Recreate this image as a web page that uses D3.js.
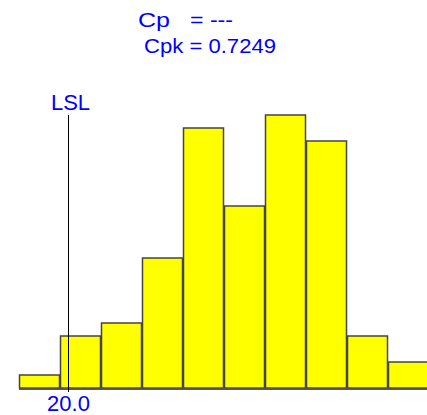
<!DOCTYPE html>
<html>
<head>
	<meta charset="UTF-8">
	<title>Histogram</title>
	<script src="https://cdn.jsdelivr.net/npm/d3@7"></script>
	<style>
		body { margin: 0; background: #fff; }
		svg { display: block; font-family: Arial, "Liberation Sans", sans-serif; }
		.bar { fill: #ffff00; stroke: #444; stroke-width: 1.5px; }
		.base { stroke: #555; stroke-width: 2px; }
		.lsl { stroke: #000; stroke-width: 1px; }
		.lbl { fill: #0000ff; font-size: 21px; }
	</style>
</head>
<body>
	<svg id="chart" width="427" height="415"></svg>
	<script>
		// bin edges and counts
		const binStart = 19.4;
		const binWidth = 0.5;
		const counts = [1, 4, 5, 10, 20, 14, 21, 19, 4, 2];
		const lsl = 20.0;
		const lslLabel = "20.0";
		const statNames = ["Cp", "Cpk"];
		const statValues = ["---", "0.7249"];

		const svg = d3.select('#chart');
		const baseY = 388;

		const x = d3.scaleLinear()
			.domain([binStart, binStart + binWidth * counts.length])
			.range([19, 429]);
		const y = d3.scaleLinear()
			.domain([0, 21])
			.range([baseY, 115]);

		svg.append('g').selectAll('rect')
			.data(counts)
			.enter().append('rect')
			.attr('class', 'bar')
			.attr('x', (d, i) => x(binStart + i * binWidth) + 0.5)
			.attr('width', x(binStart + binWidth) - x(binStart) - 1)
			.attr('y', d => y(d))
			.attr('height', d => y(0) - y(d));

		svg.append('line')
			.attr('class', 'base')
			.attr('x1', 19).attr('x2', 427)
			.attr('y1', baseY + 1).attr('y2', baseY + 1);

		const lx = Math.round(x(lsl)) + 0.5;
		svg.append('line')
			.attr('class', 'lsl')
			.attr('x1', lx).attr('x2', lx)
			.attr('y1', 115).attr('y2', baseY + 4);

		svg.append('text')
			.attr('class', 'lbl')
			.attr('x', lx + 2).attr('y', 110)
			.attr('text-anchor', 'middle')
			.style('font-size', '22px')
			.text('LSL');

		svg.append('text')
			.attr('class', 'lbl')
			.attr('x', lx).attr('y', 411)
			.attr('text-anchor', 'middle')
			.style('font-size', '22px')
			.text(lslLabel);

		// stats block
		svg.append('text').attr('class', 'lbl')
			.attr('x', 138).attr('y', 27)
			.attr('textLength', 32).attr('lengthAdjust', 'spacingAndGlyphs')
			.text(statNames[0]);
		svg.append('text').attr('class', 'lbl')
			.attr('x', 190).attr('y', 27)
			.attr('textLength', 43).attr('lengthAdjust', 'spacingAndGlyphs')
			.text('= ' + statValues[0]);
		svg.append('text').attr('class', 'lbl')
			.attr('x', 144).attr('y', 53)
			.attr('textLength', 132).attr('lengthAdjust', 'spacingAndGlyphs')
			.text(statNames[1] + ' = ' + statValues[1]);
	</script>
</body>
</html>
